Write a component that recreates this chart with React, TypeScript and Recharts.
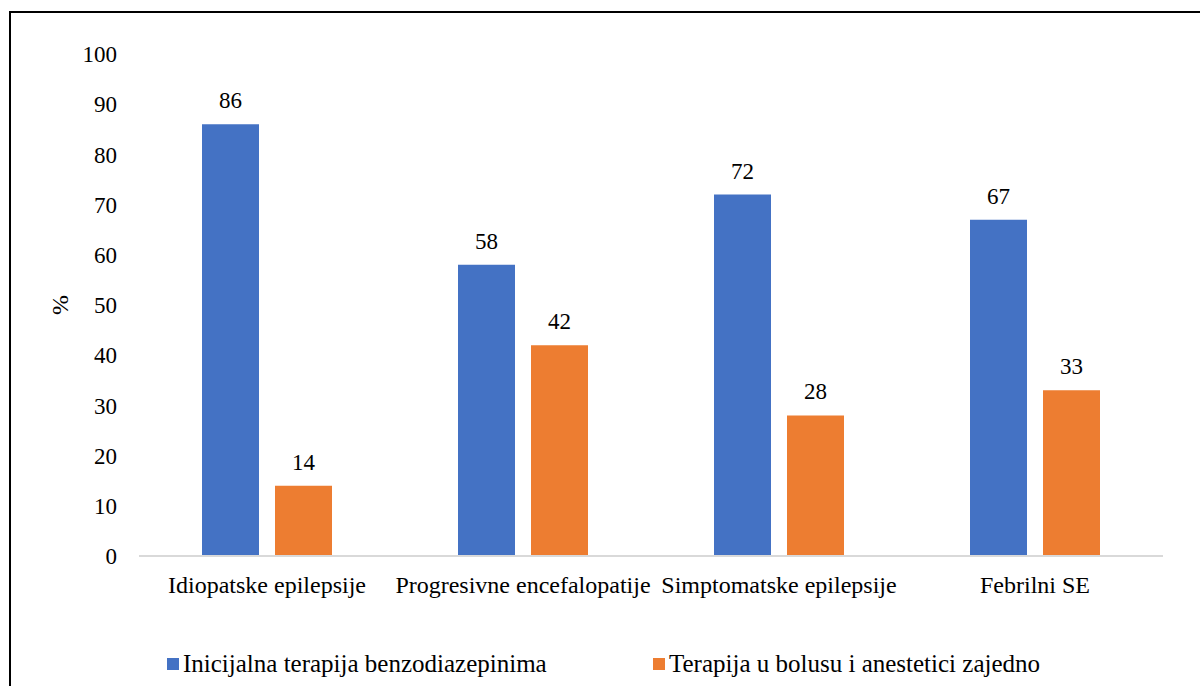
import { BarChart, Bar, XAxis, YAxis, Legend, LabelList } from "recharts";

const categories = [
  "Idiopatske epilepsije",
  "Progresivne encefalopatije",
  "Simptomatske epilepsije",
  "Febrilni SE",
];
const initialTherapy = [86, 58, 72, 67];
const bolusAnesthetics = [14, 42, 28, 33];
const yTicks = [0, 10, 20, 30, 40, 50, 60, 70, 80, 90, 100];

const seriesNames: Record<string, string> = {
  initial: "Inicijalna terapija benzodiazepinima",
  bolus: "Terapija u bolusu i anestetici zajedno",
};

const data = categories.map((name, i) => ({
  name,
  initial: initialTherapy[i],
  bolus: bolusAnesthetics[i],
}));

const FONT = "Liberation Serif";
const BLUE = "#4472C4";
const ORANGE = "#ED7D31";

// legend item x positions (chart coords)
const legendLeft: Record<string, number> = { initial: 156, bolus: 642 };

function LegendContent(props: any) {
  const payload = props.payload || [];
  return (
    <div style={{ position: "relative", height: 40, fontFamily: FONT }}>
      {payload.map((entry: any) => (
        <div
          key={entry.dataKey}
          style={{ position: "absolute", left: legendLeft[entry.dataKey], top: 0, height: 40 }}
        >
          <div
            style={{
              position: "absolute",
              left: 0,
              top: 15,
              width: 12,
              height: 12,
              background: entry.color,
            }}
          />
          <div
            style={{
              position: "absolute",
              left: 16,
              top: 8,
              fontSize: 25,
              lineHeight: "25px",
              whiteSpace: "nowrap",
              color: "#000",
            }}
          >
            {seriesNames[entry.dataKey]}
          </div>
        </div>
      ))}
    </div>
  );
}

function PercentLabel(props: any) {
  const vb = props.viewBox || { x: 0, y: 0, width: 0, height: 0 };
  const x = vb.x + 49;
  const y = vb.y + vb.height / 2;
  return (
    <text
      x={x}
      y={y}
      transform={`rotate(-90, ${x}, ${y})`}
      textAnchor="middle"
      dominantBaseline="central"
      fontFamily={FONT}
      fontSize={24}
      fill="#000"
    >
      %
    </text>
  );
}

export default function App() {
  return (
    <div
      style={{
        position: "absolute",
        left: 9,
        top: 11,
        width: 1191,
        height: 675,
        borderTop: "2px solid #000",
        borderLeft: "2px solid #000",
        boxSizing: "border-box",
        background: "#fff",
      }}
    >
      <BarChart
        width={1189}
        height={673}
        data={data}
        margin={{ top: 41, right: 37, bottom: 3, left: 0 }}
        barCategoryGap={63}
        barGap={16}
      >
        <XAxis
          dataKey="name"
          height={87}
          interval={0}
          tickLine={false}
          tickSize={0}
          tickMargin={20}
          axisLine={{ stroke: "#D9D9D9", strokeWidth: 2 }}
          tick={{ fill: "#000", fontSize: 24, fontFamily: FONT }}
        />
        <YAxis
          width={128}
          domain={[0, 100]}
          ticks={yTicks}
          interval={0}
          axisLine={false}
          tickLine={false}
          tickSize={0}
          tickMargin={22}
          tick={{ fill: "#000", fontSize: 23, fontFamily: FONT }}
          label={<PercentLabel />}
        />
        <Legend
          verticalAlign="bottom"
          height={40}
          wrapperStyle={{ height: 40 }}
          content={<LegendContent />}
        />
        <Bar dataKey="initial" fill={BLUE} barSize={57} isAnimationActive={false}>
          <LabelList
            dataKey="initial"
            position="top"
            offset={16}
            fill="#000"
            fontSize={23}
            fontFamily={FONT}
          />
        </Bar>
        <Bar dataKey="bolus" fill={ORANGE} barSize={57} isAnimationActive={false}>
          <LabelList
            dataKey="bolus"
            position="top"
            offset={16}
            fill="#000"
            fontSize={23}
            fontFamily={FONT}
          />
        </Bar>
      </BarChart>
    </div>
  );
}
